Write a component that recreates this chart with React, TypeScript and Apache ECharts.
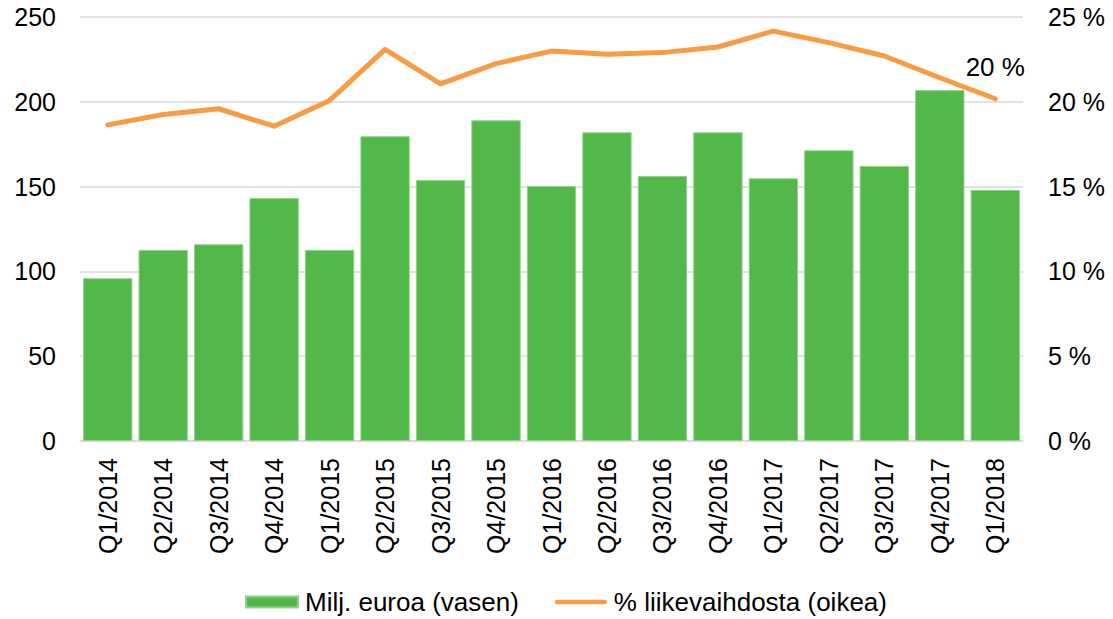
import React, { useEffect, useRef } from "react";
import * as echarts from "echarts";

const categories = [
  "Q1/2014", "Q2/2014", "Q3/2014", "Q4/2014",
  "Q1/2015", "Q2/2015", "Q3/2015", "Q4/2015",
  "Q1/2016", "Q2/2016", "Q3/2016", "Q4/2016",
  "Q1/2017", "Q2/2017", "Q3/2017", "Q4/2017",
  "Q1/2018",
];
const barValues = [96, 112.7, 116, 143.3, 112.7, 179.7, 153.9, 189.1, 150.4, 182, 156.3, 182, 154.9, 171.4, 162.2, 206.9, 148];
const lineValues = [18.64, 19.25, 19.59, 18.56, 20.08, 23.09, 21.06, 22.25, 22.99, 22.8, 22.9, 23.23, 24.17, 23.49, 22.7, 21.42, 20.18];
const barName = "Milj. euroa (vasen)";
const lineName = "% liikevaihdosta (oikea)";
const lastLabel = "20 %";

const FONT = "'Liberation Sans', Arial, sans-serif";
const GREEN = "#52b84a";
const ORANGE = "#f89b42";

export default function App() {
  const ref = useRef<HTMLDivElement>(null);
  useEffect(() => {
    if (!ref.current) return;
    const chart = echarts.init(ref.current, null, { renderer: "svg" });
    chart.setOption({
      animation: false,
      textStyle: { fontFamily: FONT },
      grid: { left: 80, right: 90, top: 17, bottom: 178, containLabel: false },
      legend: {
        top: 589,
        left: 245,
        padding: 0,
        itemWidth: 52,
        itemHeight: 11,
        itemGap: 36,
        textStyle: { fontSize: 26, color: "#000", fontFamily: FONT, padding: [0, 0, 0, 2] },
        data: [
          { name: barName, icon: "rect" },
          {
            name: lineName,
            icon: "path://M0,0L0.01,0Z M2.5,3 L53.5,3 A2.5,2.5 0 0 1 53.5,8 L2.5,8 A2.5,2.5 0 0 1 2.5,3 Z M0,11L0.01,11Z",
            itemStyle: { color: ORANGE },
          },
        ],
      },
      xAxis: {
        type: "category",
        data: categories,
        axisLine: { show: true, lineStyle: { color: "#d9d9d9", width: 1.5 } },
        axisTick: { show: false },
        axisLabel: { rotate: 90, fontSize: 25, color: "#000", margin: 17, fontFamily: FONT },
      },
      yAxis: [
        {
          type: "value",
          min: 0,
          max: 250,
          interval: 50,
          axisLine: { show: false },
          axisTick: { show: false },
          splitLine: { lineStyle: { color: "#d9d9d9", width: 1.5 } },
          axisLabel: { fontSize: 25, color: "#000", margin: 24, fontFamily: FONT },
        },
        {
          type: "value",
          min: 0,
          max: 25,
          interval: 5,
          axisLine: { show: false },
          axisTick: { show: false },
          splitLine: { show: false },
          axisLabel: { fontSize: 25, color: "#000", margin: 25, fontFamily: FONT, formatter: (v: number) => `${v} %` },
        },
      ],
      series: [
        {
          name: barName,
          type: "bar",
          data: barValues,
          yAxisIndex: 0,
          barCategoryGap: "11%",
          itemStyle: { color: GREEN, borderColor: "#8fd488", borderWidth: 1 },
        },
        {
          name: lineName,
          type: "line",
          data: lineValues.map((v, i) =>
            i === lineValues.length - 1
              ? {
                  value: v,
                  label: {
                    show: true,
                    position: "top",
                    formatter: () => lastLabel,
                    fontSize: 26,
                    color: "#000",
                    fontFamily: FONT,
                    offset: [0, -13],
                  },
                }
              : v
          ),
          yAxisIndex: 1,
          symbol: "circle",
          symbolSize: 1,
          showSymbol: true,
          lineStyle: { color: ORANGE, width: 5, cap: "round", join: "round" },
          itemStyle: { color: ORANGE },
        },
      ],
    });
    return () => chart.dispose();
  }, []);
  return (
    <div
      ref={ref}
      style={{ position: "absolute", left: 0, top: 0, width: 1113, height: 619 }}
    />
  );
}
